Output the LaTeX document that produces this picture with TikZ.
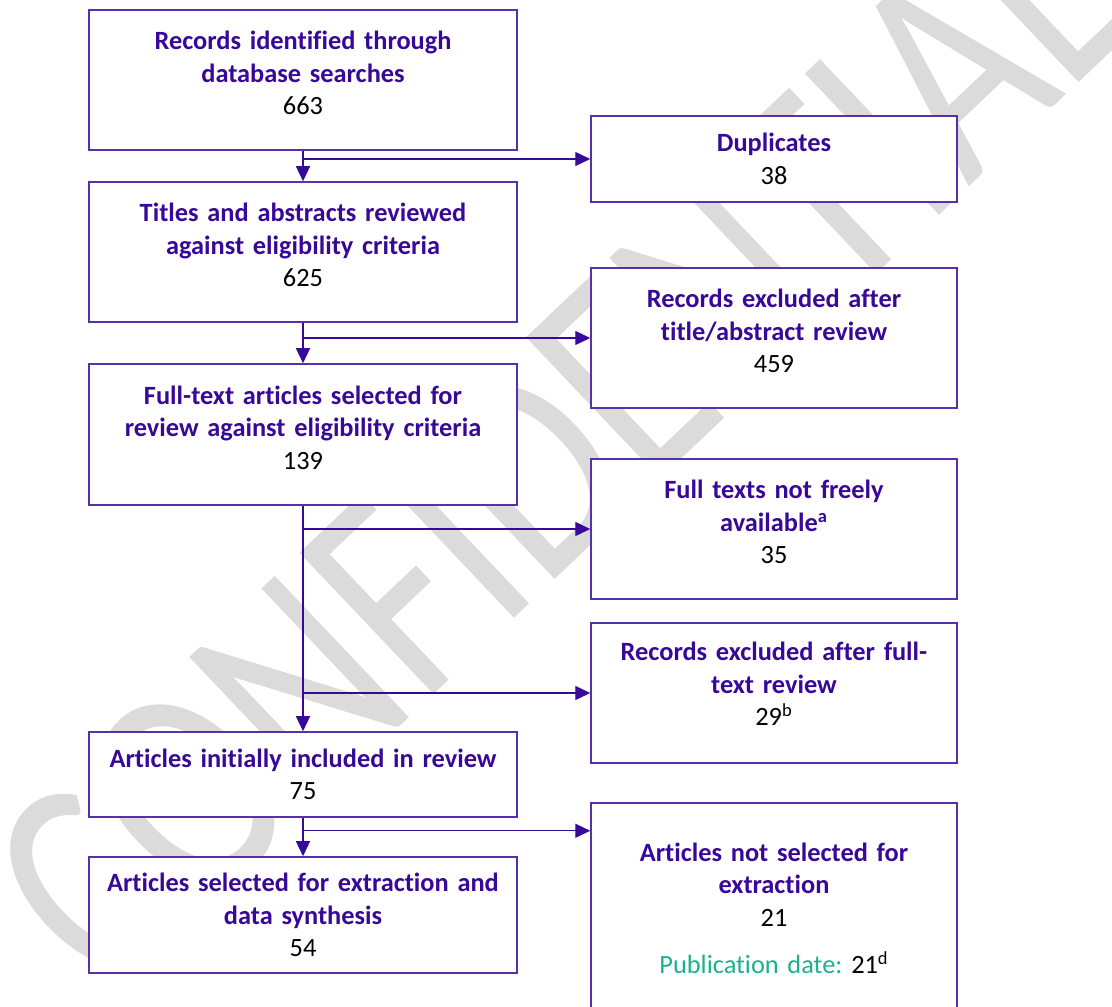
\documentclass[tikz,border=0pt]{standalone}
\usepackage{fontspec}
\setmainfont{Carlito}[Ligatures=NoCommon]
\usetikzlibrary{arrows.meta}
\definecolor{flowpurple}{RGB}{56,8,152}
\definecolor{edgepurple}{RGB}{88,48,172}
\definecolor{pubteal}{RGB}{26,178,142}
\newcommand{\cnt}[1]{{\mdseries\color{black}#1}}
\newcommand{\pad}{\rule[-0.28cm]{0pt}{0pt}}
\tikzset{
  box/.style={draw=edgepurple, fill=white, line width=0.9pt, inner sep=0pt,
    align=center, text=flowpurple,
    font=\fontsize{15pt}{18.5pt}\selectfont\bfseries\frenchspacing},
  leftbox/.style={box, minimum width=8.56cm, text width=8.4cm},
  rightbox/.style={box, minimum width=7.32cm, text width=7.2cm},
  arr/.style={draw=flowpurple, line width=0.8pt, -{Triangle[length=0.3cm, width=0.28cm]}},
  wmark/.style={text=black!14, font=\fontsize{134pt}{134pt}\selectfont, inner sep=0pt}
}
\begin{document}
\begin{tikzpicture}[x=0.02cm, y=-0.02cm]
\clip (0,0) rectangle (1112,1007);
\fill[white] (0,0) rectangle (1112,1007);
% watermark
\node[wmark, anchor=base, rotate=43.5, yscale=1.29] (wm) at (624,514) {CONFIDENTIAL};

% main column
\node[leftbox, minimum height=2.8cm] (rec) at (303,80)
  {Records identified through\\ database searches\\ \cnt{663}\pad};
\node[leftbox, minimum height=2.8cm] (tit) at (303,252)
  {Titles and abstracts reviewed\\ against eligibility criteria\\ \cnt{625}\pad};
\node[leftbox, minimum height=2.82cm] (full) at (303,434.5)
  {Full-text articles selected for\\ review against eligibility criteria\\ \cnt{139}\pad};
\node[leftbox, minimum height=1.7cm] (init) at (303,774.5)
  {Articles initially included in review\\ \cnt{75}};
\node[leftbox, minimum height=2.32cm] (sel) at (303,915)
  {Articles selected for extraction and\\ data synthesis\\ \cnt{54}};

% exclusions
\node[rightbox, minimum height=1.72cm] (dup) at (774,159)
  {Duplicates\\ \cnt{38}};
\node[rightbox, minimum height=2.8cm] (exa) at (774,338)
  {Records excluded after\\ title/abstract review\\ \cnt{459}\pad};
\node[rightbox, minimum height=2.8cm] (nfa) at (774,529)
  {Full texts not freely\\ available\textsuperscript{a}\\ \cnt{35}\pad};
\node[rightbox, minimum height=2.8cm] (exb) at (774,693)
  {Records excluded after full-\\ text review\\ \cnt{29\textsuperscript{b}}\rule[-0.36cm]{0pt}{0pt}};
\node[rightbox, minimum height=4.4cm] (nsel) at (774,913)
  {Articles not selected for\\ extraction\\ \cnt{21}\\[0.3cm]
   {\mdseries\color{pubteal}Publication date:} \cnt{21\textsuperscript{d}}\rule[-0.2cm]{0pt}{0pt}};

% connectors
\draw[arr] (rec.south) -- (tit.north);
\draw[arr] (rec.south |- dup.west) -- (dup.west);
\draw[arr] (tit.south) -- (full.north);
\draw[arr] (tit.south |- exa.west) -- (exa.west);
\draw[arr] (full.south) -- (init.north);
\draw[arr] (full.south |- nfa.west) -- (nfa.west);
\draw[arr] (full.south |- exb.west) -- (exb.west);
\draw[arr] (init.south) -- (sel.north);
\coordinate (fork) at ([yshift=-0.26cm]init.south);
\draw[arr] (fork) -- (fork -| nsel.west);
\end{tikzpicture}
\end{document}
